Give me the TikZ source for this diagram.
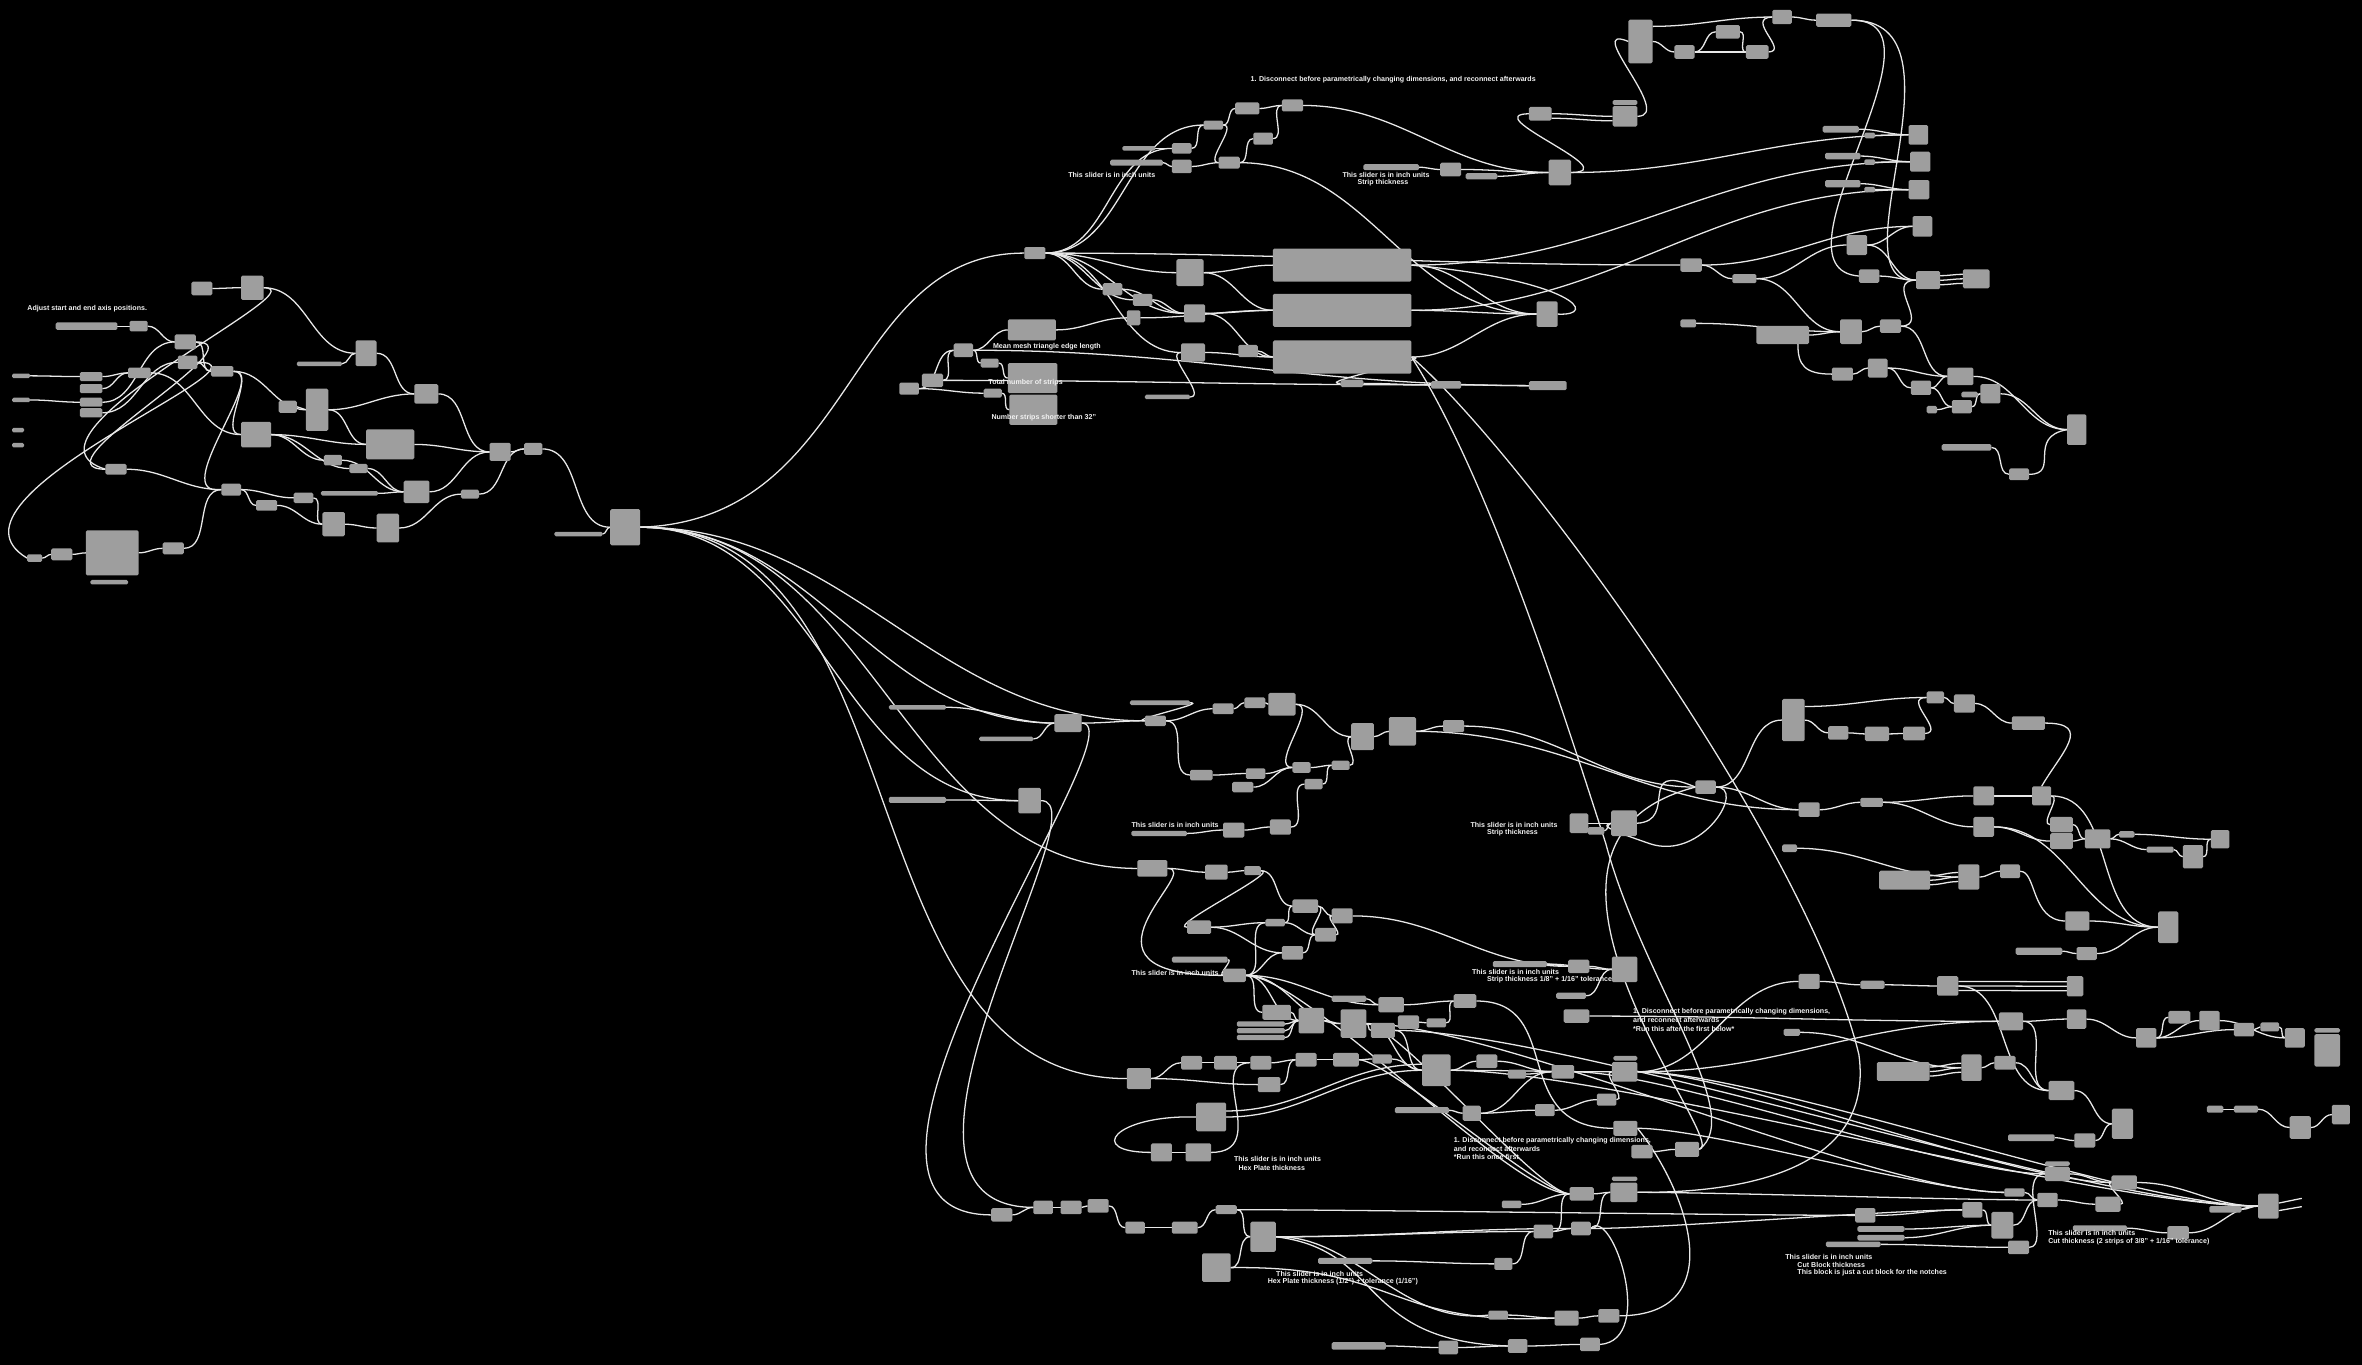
\documentclass[tikz,border=0pt]{standalone}
\usepackage{fontspec}
\setmainfont{Liberation Sans}
\definecolor{boxg}{HTML}{9E9E9E}
\definecolor{wirec}{HTML}{E8E8E8}
\definecolor{txtc}{HTML}{F2F2F2}
\pgfdeclarelayer{back}
\pgfdeclarelayer{wires}
\pgfsetlayers{back,wires,main}
\tikzset{
 gbox/.style={fill=boxg,draw=none,rounded corners=1pt,inner sep=0pt,outer sep=0pt},
 wire/.style={draw=wirec,line width=0.85pt},
 lbl/.style={text=txtc,font=\bfseries\fontsize{4.7}{5.6}\selectfont,inner sep=0pt,anchor=west},
}
\makeatletter
\newcommand\wirelist{}
\newcommand\bx[5]{\node[gbox,minimum width=#4pt,minimum height=#5pt] (#1) at ({#2+#4/2},{#3+#5/2}) {};}
\newcommand\W[3][]{\g@addto@macro\wirelist{\draw[wire,#1] (#2.east) to[out=0,in=180] (#3.west);}}
\newcommand\CW[1]{\g@addto@macro\wirelist{\draw[wire] #1;}}
\makeatother
\begin{document}
\begin{tikzpicture}[x=1pt,y=-1pt]
\begin{pgfonlayer}{back}
\fill[black] (0,0) rectangle (1568,906);
\end{pgfonlayer}
\useasboundingbox (0,0) rectangle (1568,906);
% ---------------- LEFT CLUSTER
\bx{l1}{127}{187}{14}{9}
\bx{l2}{160}{183}{15}{16}
\bx{l3}{37}{214}{41}{5}
\bx{l4}{86}{213}{12}{7}
\bx{l5}{116}{222}{14}{10}
\bx{l6}{118}{236}{13}{9}
\bx{l7}{8}{248}{12}{3}
\bx{l8}{8}{264}{12}{3}
\bx{l9}{8}{284}{8}{3}
\bx{l10}{8}{294}{8}{3}
\bx{l11}{53}{247}{15}{6}
\bx{l12}{53}{255}{15}{6}
\bx{l13}{53}{264}{15}{6}
\bx{l14}{53}{271}{15}{6}
\bx{l15}{85}{244}{15}{7}
\bx{l16}{140}{243}{15}{7}
\bx{l17}{185}{266}{12}{8}
\bx{l18}{203}{258}{15}{28}
\bx{l19}{236}{226}{14}{17}
\bx{l20}{197}{240}{30}{3}
\bx{l21}{275}{255}{16}{13}
\bx{l22}{160}{280}{20}{17}
\bx{l23}{243}{285}{32}{20}
\bx{l24}{70}{308}{14}{7}
\bx{l25}{147}{321}{13}{8}
\bx{l26}{215}{302}{12}{7}
\bx{l27}{232}{308}{12}{6}
\bx{l28}{195}{327}{13}{7}
\bx{l29}{170}{332}{14}{7}
\bx{l30}{213}{326}{38}{3}
\bx{l31}{268}{319}{17}{15}
\bx{l32}{306}{325}{12}{6}
\bx{l33}{325}{294}{14}{12}
\bx{l34}{348}{294}{12}{8}
\bx{l35}{214}{340}{15}{16}
\bx{l36}{250}{341}{15}{19}
\bx{l37}{57}{352}{35}{30}
\bx{l38}{60}{385}{25}{3}
\bx{l39}{34}{364}{14}{8}
\bx{l40}{18}{368}{10}{5}
\bx{l41}{108}{360}{14}{8}
\bx{l42}{368}{353}{32}{3}
\bx{C}{405}{338}{20}{24}
\node[lbl] (tx1) at (18,205) {Adjust start and end axis positions.};
\W{l7}{l11}\W{l8}{l13}\W{l11}{l15}\W{l12}{l15}\W{l13}{l5}\W{l14}{l6}
\W{l3}{l4}\W{l4}{l5}\W{l1}{l2}\W{l5}{l16}\W{l6}{l16}\W{l15}{l22}
\W{l16}{l18}\W{l16}{l22}\W{l20}{l19}\W{l19}{l21}\W{l18}{l21}\W{l18}{l23}
\W{l22}{l23}\W{l17}{l18}\W{l22}{l26}\W{l23}{l33}\W{l21}{l33}\W{l26}{l31}
\W{l27}{l31}\W{l31}{l33}\W{l33}{l34}\W{l34}{C}\W{l30}{l31}\W{l29}{l35}
\W{l28}{l35}\W{l35}{l36}\W{l36}{l32}\W{l32}{l34}\W{l24}{l25}\W{l25}{l29}
\W{l39}{l37}\W{l40}{l39}\W{l37}{l41}\W{l41}{l25}\W{l42}{C}\W{l25}{l28}\W{l22}{l27}
\W{l2}{l19}
\CW{(l5.east) .. controls (175,227) and (20,311) .. (l24.west)}
\CW{(l6.east) .. controls (190,240) and (-50,330) .. (l40.west)}
\CW{(l2.east) .. controls (215,191) and (0,290) .. (l24.west)}
\CW{(l16.east) .. controls (180,246) and (110,330) .. (l25.west)}
% ---------------- TOP RIGHT
\bx{t1}{680}{164}{14}{8}
\bx{t2}{820}{68}{16}{8}
\bx{t3}{851}{66}{14}{8}
\bx{t4}{799}{80}{13}{6}
\bx{t5}{832}{88}{13}{8}
\bx{t6}{809}{104}{14}{8}
\bx{t7}{905}{109}{37}{4}
\bx{t8}{956}{108}{14}{9}
\bx{t9}{973}{115}{21}{4}
\bx{t10}{1028}{106}{15}{17}
\bx{t11}{1015}{71}{15}{9}
\bx{t12}{737}{106}{35}{4}
\bx{t13}{778}{106}{13}{9}
\bx{t14}{778}{95}{13}{7}
\bx{t15}{745}{97}{22}{3}
\bx{t16l}{1070.5}{66.4}{16.5}{3.3}
\bx{t16}{1070.5}{70.4}{16.5}{13.6}
\bx{t17}{1081}{13}{16}{29}
\bx{t18}{1111.5}{30}{13.5}{9}
\bx{t19}{1139}{16.6}{16}{9}
\bx{t20}{1159}{30}{15}{9}
\bx{t21}{1176.5}{6.6}{13}{9.4}
\bx{t22}{1205.6}{9}{23.4}{8.8}
\bx{sa1}{1210}{83.6}{24}{4.4}
\bx{sb1}{1237.6}{88}{7.2}{3.8}
\bx{t23}{1267}{83}{13}{13}
\bx{sa2}{1211.6}{101.4}{23.4}{4.4}
\bx{sb2}{1237.6}{105.8}{7.2}{3.7}
\bx{t24}{1268}{100.7}{13.5}{13.3}
\bx{sa3}{1211.6}{119.5}{23.4}{4.9}
\bx{sb3}{1237.6}{124}{7.2}{3.7}
\bx{t25}{1267}{119.5}{13.8}{12.8}
\bx{t26}{1269.7}{143.4}{13}{13.7}
\bx{tE}{1225.8}{156}{13.7}{13.3}
\bx{t27}{1115.5}{171.5}{14.3}{8.9}
\bx{t28}{1150}{182}{16}{6}
\bx{t29}{1234}{178.8}{13.6}{8.9}
\bx{t30}{1272}{180}{16}{12}
\bx{t31}{1303}{178.8}{17.7}{12.6}
\bx{t32}{1115.5}{212}{10.5}{5.3}
\bx{t33}{1166}{216.4}{35}{12}
\bx{t34}{1221.5}{212}{14.5}{16.4}
\bx{t35}{1248}{212}{14}{9}
\bx{tF}{1216}{244}{14}{8.7}
\bx{tG}{1240}{238}{13}{12.6}
\bx{t36}{1292.7}{244}{17.3}{11.7}
\bx{t37}{1268.5}{252.7}{13.5}{9.5}
\bx{tS}{1302}{260}{11}{3.8}
\bx{t38}{1314.7}{255}{13.3}{12.8}
\bx{t39}{1279}{269.5}{7}{4.9}
\bx{tH}{1295.7}{265.6}{13.3}{8.8}
\bx{t40}{1372.3}{275}{12.7}{20.4}
\bx{t41}{1289}{294.8}{33}{4.4}
\bx{t42}{1333.7}{311}{13.3}{7.7}
\bx{t43}{1020}{200}{14}{17}
\bx{B1}{845}{165}{92}{22}
\bx{B2}{845}{195}{92}{22}
\bx{B3}{845}{226}{92}{22}
\bx{t44}{781}{172}{18}{18}
\bx{t45}{732}{188}{13}{8}
\bx{t46}{752}{195}{13}{8}
\bx{t47}{786}{202}{14}{12}
\bx{t48}{784}{228}{16}{12}
\bx{t49}{760}{262}{30}{3}
\bx{t50}{822}{229}{13}{8}
\bx{t51}{890}{252}{15}{5}
\bx{t52}{950}{253}{20}{5}
\bx{t53}{1015}{253}{25}{6}
\bx{M1}{669}{212}{32}{14}
\bx{M2}{669}{241}{33}{20}
\bx{M3}{670}{262}{32}{20}
\bx{m1}{633}{228}{13}{9}
\bx{m2}{651}{238}{12}{6}
\bx{m3}{612}{248}{14}{9}
\bx{m4}{597}{254}{13}{8}
\bx{m5}{653}{258}{12}{6}
\bx{m6}{748}{206}{9}{10}
\node[lbl] (tx2) at (830,53) {1. Disconnect before parametrically changing dimensions, and reconnect afterwards};
\node[lbl] (tx3) at (709,116) {This slider is in inch units};
\node[lbl] (tx4) at (891,116) {This slider is in inch units};
\node[lbl] (tx4b) at (901,121.5) {Strip thickness};
\node[lbl] (tx5) at (659,230) {Mean mesh triangle edge length};
\node[lbl] (tx6) at (656,254) {Total number of strips};
\node[lbl] (tx7) at (658,277) {Number strips shorter than 32"};
\CW{(C.east) .. controls (570,345) and (560,168) .. (t1.west)}
\W{t1}{t44}\W{t1}{t45}\W{t1}{t46}\W{t1}{t47}\W{t1}{t48}\W{t1}{t27}
\W{t1}{t4}\W{t1}{t14}\W{t15}{t14}\W{t12}{t13}\W{t13}{t6}\W{t14}{t4}
\W{t4}{t2}\W{t4}{t6}\W{t6}{t5}\W{t5}{t3}\W{t2}{t3}\W{t3}{t10}\W{t6}{t43}
\W{t7}{t8}\W{t8}{t10}\W{t9}{t10}\W{t10}{t23}
\CW{(t10.east) .. controls (1080,114) and (980,76) .. (t11.west)}
\W{t11}{t16}
\CW{([yshift=-3pt]t11.east) to[out=0,in=180] ([yshift=-3pt]t16.west)}
\CW{(t16.east) .. controls (1112,77) and (1050,15) .. (t17.west)}
\CW{([yshift=10pt]t17.east) to[out=0,in=180] (t21.west)}
\W{t17}{t18}\W{t18}{t19}\W{t18}{t20}\W{t19}{t20}
\CW{(t20.east) .. controls (1188,34) and (1158,12) .. (t21.west)}
\W{t21}{t22}
\CW{(t22.east) .. controls (1300,13) and (1170,178) .. (t29.west)}
\CW{(t22.east) .. controls (1312,13) and (1215,190) .. (t30.west)}
\W{sa1}{t23}\W{sb1}{t23}\W{sa2}{t24}\W{sb2}{t24}\W{sa3}{t25}\W{sb3}{t25}
\W{B1}{t24}\W{B2}{t25}\W{B1}{t43}\W{B2}{t43}\W{B3}{t43}
\W{t27}{t26}\W{t27}{t28}\W{t28}{tE}\W{t28}{t34}\W{tE}{t26}\W{tE}{t30}\W{t29}{t30}
\W{t30}{t31}
\CW{([yshift=3pt]t30.east) to[out=0,in=180] ([yshift=3pt]t31.west)}
\CW{([yshift=-3pt]t30.east) to[out=0,in=180] ([yshift=-3pt]t31.west)}
\W{t32}{t34}\W{t33}{t34}\W{t34}{t35}
\CW{(t35.east) .. controls (1282,216) and (1250,186) .. (t30.west)}
\W{t35}{t36}
\CW{([xshift=10pt]t33.south) .. controls +(0,14) and +(-18,0) .. (tF.west)}
\W{tF}{tG}\W{tG}{t37}\W{tG}{t36}\W{t37}{t36}\W{t37}{tH}\W{tS}{t38}\W{t39}{tH}
\W{tH}{t38}\W{t36}{t40}\W{t38}{t40}\W{t41}{t42}
\CW{(t42.east) .. controls (1368,315) and (1345,290) .. (t40.west)}
\CW{(t43.east) .. controls (1062,210) and (1045,186) .. (B1.east)}
\W{t44}{B1}\W{t45}{t47}\W{t46}{t47}\W{t47}{B2}\W{t48}{B3}\W{t50}{B3}\W{t49}{t48}
\W{m6}{B2}\W{t44}{B2}\W{t47}{B3}
\W{m4}{m1}\W{m3}{m1}\W{m1}{m2}\W{m2}{M2}\W{m4}{m5}\W{m5}{M3}\W{m1}{M1}
\W{M1}{m6}\W{m1}{t53}\W{m3}{t52}\W{B3}{t51}\W{t51}{t52}\W{t52}{t53}
% ---------------- LOWER CLUSTER
\bx{u1}{590}{468}{38}{3}
\bx{u2}{650}{489}{36}{3}
\bx{u3}{700}{474}{18}{12}
\bx{u4}{590}{529}{38}{4}
\bx{u5}{676}{523}{15}{17}
\bx{u6}{750}{465}{40}{3}
\bx{u7}{760}{475}{14}{7}
\bx{u8}{805}{467}{14}{7}
\bx{u9}{826}{463}{14}{7}
\bx{u10}{842}{460}{18}{15}
\bx{u11}{897}{480}{15}{18}
\bx{u12}{922}{476}{18}{19}
\bx{u13}{958}{478}{14}{8}
\bx{u14}{884}{505}{12}{6}
\bx{u15}{790}{511}{15}{7}
\bx{u16}{827}{510}{13}{7}
\bx{u17}{818}{519}{14}{7}
\bx{u18}{858}{506}{12}{7}
\bx{u19}{866}{517}{12}{7}
\bx{u20}{843}{544}{14}{10}
\bx{u21}{812}{546}{14}{10}
\bx{u22}{751}{551.5}{37}{3.5}
\node[lbl] (tx8) at (751,547.7) {This slider is in inch units};
\bx{z0}{658}{802}{14}{9}
\bx{y1}{686}{797}{13}{9}
\bx{y2}{704}{797}{14}{9}
\bx{z1}{755}{571}{20}{11}
\bx{z2}{800}{574}{15}{10}
\bx{z3}{826}{575}{11}{6}
\bx{z4}{858}{597}{17}{9}
\bx{z5}{884}{603}{14}{10}
\bx{z6}{788}{611}{16}{9}
\bx{z7}{840}{610}{13}{5}
\bx{z8}{873}{616}{14}{9}
\bx{z9}{851}{628}{14}{9}
\bx{z10}{778}{635}{37}{4}
\bx{z11}{812}{643}{15}{9}
\bx{z12}{884}{661}{23}{4}
\bx{z13}{915}{662}{17}{10}
\bx{z14}{965}{660}{15}{9}
\bx{z15}{838}{667}{19}{10}
\bx{z16}{862}{669}{17}{17}
\bx{z17a}{821}{678}{32}{3.5}
\bx{z17b}{821}{682.5}{32}{3.5}
\bx{z17c}{821}{687}{32}{3.5}
\bx{z18}{890}{670}{17}{19}
\bx{z19}{910}{679}{16}{10}
\bx{z20}{928}{674}{14}{9}
\bx{z21}{947}{676}{13}{6}
\bx{z22}{1041}{637}{14}{9}
\bx{z23}{991}{638}{36}{4}
\bx{z24}{1070}{635}{17}{17}
\bx{z25}{1033}{659}{20}{4}
\bx{z26}{1038}{670}{17}{9}
\bx{z27}{748}{709}{16}{14}
\bx{z28}{784}{701}{14}{9}
\bx{z29}{806}{701}{15}{9}
\bx{z30}{830}{701}{14}{9}
\bx{z31}{835}{715}{15}{10}
\bx{z32}{860}{699}{14}{9}
\bx{z33}{885}{699}{17}{9}
\bx{z34}{911}{700}{13}{6}
\bx{z35}{944}{700}{19}{21}
\bx{z36}{980}{700}{14}{9}
\bx{z37}{1001}{710}{12}{6}
\bx{z38}{1030}{707}{15}{9}
\bx{z39}{1070}{705}{17}{13}
\bx{z39l}{1071}{701}{16}{3}
\bx{z40}{1060}{726}{13}{8}
\bx{z41}{926}{735}{36}{4}
\bx{z42}{971}{734}{12}{10}
\bx{z43}{1019}{733}{13}{8}
\bx{z44}{1071}{744}{16}{10}
\bx{z45}{794}{732}{20}{19}
\bx{z46}{764}{759}{14}{12}
\bx{z47}{787}{759}{17}{12}
\bx{z48}{1083}{760}{14}{9}
\bx{z49}{1112}{758}{16}{10}
\bx{z50}{1042}{788}{16}{9}
\bx{z51}{1069}{785}{18}{13}
\bx{z51l}{1070}{781}{17}{3}
\bx{z52}{997}{797}{13}{5}
\bx{z53}{722}{796}{14}{9}
\bx{z54}{747}{811}{13}{8}
\bx{z55}{778}{811}{17}{8}
\bx{z56}{807}{800}{14}{6}
\bx{z57}{830}{811}{17}{20}
\bx{z58}{798}{832}{19}{19}
\bx{z59}{875}{835}{36}{4}
\bx{z60}{1018}{813}{13}{9}
\bx{z61}{1043}{811}{13}{9}
\bx{z62}{992}{835}{12}{8}
\bx{z63}{988}{870}{13}{6}
\bx{z64}{1032}{870}{16}{10}
\bx{z65}{1061}{869}{14}{9}
\bx{z66}{884}{891}{36}{5}
\bx{z67}{955}{890}{13}{9}
\bx{z68}{1001}{889}{13}{9}
\bx{z69}{1049}{888}{13}{9}
\node[lbl] (tx9) at (751,645.7) {This slider is in inch units};
\node[lbl] (tx10) at (977,645.3) {This slider is in inch units};
\node[lbl] (tx10b) at (987,650.3) {Strip thickness 1/8" + 1/16" tolerance};
\node[lbl] (tx11) at (976,547.7) {This slider is in inch units};
\node[lbl] (tx11b) at (987,553) {Strip thickness};
\node[lbl] (tx12) at (1084,671.8) {1. Disconnect before parametrically changing dimensions,};
\node[lbl] (tx12b) at (1084,677.3) {and reconnect afterwards};
\node[lbl] (tx12c) at (1084,682.8) {*Run this after the first below*};
\node[lbl] (tx13) at (965,757) {1. Disconnect before parametrically changing dimensions,};
\node[lbl] (tx13b) at (965,762.5) {and reconnect afterwards};
\node[lbl] (tx13c) at (965,768) {*Run this once first};
\node[lbl] (tx14) at (819,769.6) {This slider is in inch units};
\node[lbl] (tx14b) at (822,775.4) {Hex Plate thickness};
\node[lbl] (tx15) at (847,845.8) {This slider is in inch units};
\node[lbl] (tx15b) at (841.4,851) {Hex Plate thickness (1/2") + tolerance (1/16")};
\W{C}{u3}\W{C}{u5}\W{C}{z1}\W{C}{u7}\W{C}{z27}
\W{u1}{u3}\W{u2}{u3}\W{u4}{u5}\W{u3}{u7}\W{u6}{u7}\W{u7}{u8}\W{u8}{u9}
\W{u9}{u10}\W{u10}{u11}\W{u11}{u12}\W{u12}{u13}\W{u15}{u16}\W{u17}{u18}
\W{u16}{u18}\W{u18}{u14}\W{u19}{u14}\W{u14}{u11}\W{u20}{u19}\W{u21}{u20}\W{u22}{u21}
\W{u7}{u15}\W{u10}{u18}
\CW{(u3.east) .. controls (760,480) and (520,806) .. (z0.west)}
\CW{(u5.east) .. controls (735,531) and (560,801) .. (y1.west)}
\W{z0}{y1}\W{y1}{y2}\W{y2}{z53}
\W{z1}{z2}\W{z2}{z3}\W{z3}{z4}\W{z6}{z7}\W{z6}{z9}\W{z7}{z4}\W{z7}{z8}
\W{z4}{z5}\W{z4}{z8}\W{z8}{z5}\W{z9}{z8}\W{z11}{z9}\W{z11}{z7}\W{z10}{z11}
\CW{(z3.east) .. controls +(14,0) and +(-14,0) .. (z6.west)}
\CW{(z1.east) .. controls (800,576.5) and (700,647.5) .. (z11.west)}
\W{z5}{z22}\W{z23}{z22}\W{z22}{z24}\W{z23}{z24}\W{z25}{z24}
\W{z11}{z15}\W{z11}{z16}\W{z11}{z18}\W{z11}{z13}
\W{z12}{z13}\W{z13}{z14}\W{z20}{z21}\W{z21}{z14}\W{z18}{z19}\W{z16}{z18}
\W{z15}{z16}\W{z17a}{z16}\W{z17b}{z16}\W{z17c}{z16}\W{z19}{z35}\W{z18}{z35}
\CW{(z14.east) .. controls (1040,664.5) and (1000,749) .. (z44.west)}
\W{z27}{z28}\W{z28}{z29}\W{z29}{z30}\W{z30}{z32}\W{z32}{z33}\W{z33}{z34}
\W{z34}{z35}\W{z27}{z31}\W{z31}{z32}\W{z35}{z36}\W{z35}{z39}\W{z36}{z38}
\W{z37}{z38}\W{z38}{z39}\W{z41}{z42}\W{z42}{z43}\W{z43}{z40}\W{z40}{z39}\W{z42}{z38}
\W{z45}{z35}
\CW{([yshift=4pt]z45.east) to[out=0,in=180] ([yshift=4pt]z35.west)}
\CW{(z45.west) .. controls (740,740) and (720,765) .. (z46.west)}
\W{z46}{z47}
\CW{(z47.east) .. controls +(40,0) and +(-30,0) .. (z30.west)}
\W[looseness=0.3]{z33}{z50}\W[looseness=0.3]{z18}{z50}
\W{z48}{z49}\W{z50}{z51}\W{z52}{z50}
\W{z53}{z54}\W{z54}{z55}\W{z55}{z56}\W{z56}{z57}\W{z58}{z57}\W{z57}{z60}
\W{z57}{z61}\W{z62}{z60}\W{z60}{z61}\W{z61}{z51}\W{z60}{z50}\W{z59}{z62}
\W{z63}{z64}\W{z64}{z65}\W{z66}{z67}\W{z67}{z68}\W{z68}{z69}
\CW{(z57.east) .. controls (900,820) and (930,880) .. (z63.west)}
\CW{(z57.east) .. controls (920,830) and (900,890) .. (z68.west)}
\CW{(z58.east) .. controls (930,840) and (920,880) .. (z64.west)}
\CW{(z65.east) .. controls (1150,873) and (1120,790) .. (z44.east)}
\CW{(z69.east) .. controls (1100,890) and (1070,800) .. (z61.east)}
\W[looseness=0.4]{z11}{z50}
% long diagonals from the top
\CW{(B3.east) .. controls (1010,300) and (1200,560) .. (1234,700) .. controls (1245,780) and (1150,792) .. (z51.east)}
\CW{(B3.east) .. controls (990,320) and (1040,480) .. (1066,560) .. controls (1090,650) and (1160,740) .. (z49.east)}
% ---------------- RIGHT MIDDLE
\bx{r1}{1183}{464}{15}{28}
\bx{r2}{1213.6}{482}{13.4}{9}
\bx{r3}{1238}{482.4}{16}{9.6}
\bx{r4}{1263.4}{482.4}{14.6}{9}
\bx{r5}{1279}{459}{11.5}{8}
\bx{r6}{1297}{461}{14}{12}
\bx{r6b}{1335.5}{475.5}{22}{9}
\bx{r7}{1069.6}{538}{17}{17}
\bx{r8}{1042}{540}{12.4}{13}
\bx{r8b}{1054}{549}{11}{5}
\bx{r9}{1125.5}{518}{13.5}{9}
\bx{r10}{1194}{532.7}{14}{9.6}
\bx{r11}{1235}{529.6}{15}{6}
\bx{r12}{1310}{522}{13.7}{12.7}
\bx{r13}{1349}{522}{12.6}{12.7}
\bx{r14}{1310}{542.3}{13.7}{13.2}
\bx{r15a}{1361}{542.3}{15}{10.3}
\bx{r15b}{1361}{553}{15}{10.7}
\bx{r16}{1384}{550.5}{17}{12.7}
\bx{r17}{1406.7}{551.7}{10.3}{4.3}
\bx{r18}{1467.6}{551}{12.4}{12.2}
\bx{r19}{1425}{562}{18}{4}
\bx{r19b}{1449}{561}{13.5}{15.4}
\bx{r20}{1247.5}{578}{33.8}{12.6}
\bx{r21}{1300}{573.8}{14}{16.8}
\bx{r22}{1327.7}{573.8}{13.3}{9.2}
\bx{r23}{1371}{605}{16}{12.8}
\bx{r24}{1432.7}{605}{13.3}{21}
\bx{r25}{1338}{629}{31}{4.8}
\bx{r26}{1378.5}{628.7}{13.5}{8.6}
\bx{r27}{1183}{560.6}{10}{5}
\W{u13}{r9}\W{u12}{r10}
\W{r9}{r1}
\CW{([yshift=9pt]r1.east) to[out=0,in=180] (r5.west)}
\W{r1}{r2}\W{r2}{r3}\W{r3}{r4}
\CW{(r4.east) .. controls (1292,486) and (1262,463) .. (r5.west)}
\W{r5}{r6}\W{r6}{r6b}
\CW{(r6b.east) .. controls (1390,480) and (1368,500) .. (r13.north)}
\W{r9}{r10}\W{r10}{r11}\W{r11}{r12}\W{r12}{r13}\W{r11}{r14}\W{r14}{r15b}\W{r13}{r15a}
\W{r15a}{r16}\W{r15b}{r16}\W{r16}{r17}\W{r17}{r18}\W{r16}{r19}\W{r19}{r19b}\W{r19b}{r18}
\W{r27}{r21}\W{r20}{r21}
\CW{([yshift=3pt]r20.east) to[out=0,in=180] ([yshift=3pt]r21.west)}
\CW{([yshift=-3pt]r20.east) to[out=0,in=180] ([yshift=-3pt]r21.west)}
\W{r21}{r22}
\CW{(r22.east) .. controls (1352,578) and (1348,611) .. (r23.west)}
\W{r23}{r24}\W{r25}{r26}\W{r26}{r24}\W{r14}{r24}\W{r13}{r24}
\W{r8}{r7}\W{r8b}{r7}
\CW{(r7.east) .. controls (1115,545) and (1085,505) .. (r9.west)}
\CW{(r9.east) .. controls (1160,522) and (1130,572) .. (1095,560) .. controls (1075,553) and (1060,548) .. (r7.west)}
\CW{(z49.east) .. controls (1150,760) and (980,560) .. (r9.west)}
% ---------------- LOWER RIGHT
\bx{q1a}{1194}{646.5}{14}{10}
\bx{q1b}{1235}{651}{16}{5.5}
\bx{q1}{1286}{648}{14}{13}
\bx{q1c}{1372}{648}{11}{13.4}
\bx{q2}{1184}{683}{11}{4.6}
\bx{q3}{1327}{672}{16}{12}
\bx{q4}{1372}{670}{13}{13}
\bx{q5}{1418}{682.5}{13.5}{13}
\bx{q6}{1439.5}{671}{14.5}{8.5}
\bx{q7}{1460}{671}{13.4}{13}
\bx{q8}{1483}{679}{13.4}{9}
\bx{q8b}{1500.5}{678.7}{12.5}{6}
\bx{q9}{1516.7}{682.5}{13.3}{13}
\bx{q10l}{1536.4}{682.5}{17}{3}
\bx{q10}{1536.4}{686.5}{17}{21.5}
\bx{q11}{1246}{705}{35}{12.6}
\bx{q12}{1302}{700}{13.4}{17.6}
\bx{q13}{1324}{701}{14}{9}
\bx{q14}{1360}{717.6}{17}{12.7}
\bx{q15}{1402}{736}{14}{20}
\bx{q16}{1333}{753}{31}{4.5}
\bx{q17}{1377}{752.4}{14}{9.4}
\bx{q18}{1465}{734}{11}{4.6}
\bx{q18b}{1483}{734}{16}{4.6}
\bx{q18c}{1520}{741}{14}{15}
\bx{q18d}{1548}{733.4}{12}{13}
\bx{q20l}{1357.5}{771}{16.5}{3}
\bx{q20}{1357.5}{774.5}{16.5}{9.5}
\bx{q21}{1401.6}{780.3}{17}{9.4}
\bx{q22}{1330.5}{788.8}{13.5}{5.5}
\bx{q23}{1352.5}{791.8}{13.5}{9.6}
\bx{q24}{1391}{794.3}{16.7}{10.2}
\bx{q25}{1302.7}{798}{13.3}{10.3}
\bx{q26}{1322}{804.5}{14.5}{17.7}
\bx{q27}{1231.5}{802}{13.5}{9.6}
\bx{q28}{1233}{814}{31.4}{3.7}
\bx{q29}{1233}{819.7}{31.4}{3.8}
\bx{q30}{1212}{824.3}{36.5}{3.5}
\bx{q31}{1333}{823.5}{14}{9}
\bx{q32}{1376}{813.4}{36}{3.8}
\bx{q33}{1438.8}{814}{14.2}{8.8}
\bx{q34}{1466.6}{800.7}{21.4}{4.3}
\bx{q19}{1499}{792.3}{13.7}{16.7}
\node[lbl] (tx16) at (1185,834.5) {This slider is in inch units};
\node[lbl] (tx16b) at (1193,839.8) {Cut Block thickness};
\node[lbl] (tx16c) at (1193,845.1) {This block is just a cut block for the notches};
\node[lbl] (tx17) at (1359.5,818.5) {This slider is in inch units};
\node[lbl] (tx17b) at (1359.5,824) {Cut thickness (2 strips of 3/8" + 1/16" tolerance)};
\W{z39}{q1a}\W{q1a}{q1b}\W{q1b}{q1}\W{q1}{q1c}
\CW{([yshift=3pt]q1.east) to[out=0,in=180] ([yshift=3pt]q1c.west)}
\CW{([yshift=-3pt]q1.east) to[out=0,in=180] ([yshift=-3pt]q1c.west)}
\W{z26}{q3}\W{q3}{q4}\W{z39}{q3}
\W{q4}{q5}\W{q5}{q6}\W{q5}{q7}\W{q5}{q8}\W{q8}{q8b}\W{q8b}{q9}\W{q7}{q9}
\W{q2}{q12}\W{q11}{q12}
\CW{([yshift=3pt]q11.east) to[out=0,in=180] ([yshift=3pt]q12.west)}
\CW{([yshift=-3pt]q11.east) to[out=0,in=180] ([yshift=-3pt]q12.west)}
\W{q12}{q13}\W{q13}{q14}\W{q14}{q15}\W{q16}{q17}\W{q17}{q15}\W{q1}{q14}\W{q3}{q14}
\W{q18}{q18b}\W{q18b}{q18c}\W{q18c}{q18d}
\W[looseness=0.4]{z56}{q27}\W{q27}{q25}\W{q28}{q26}\W{q29}{q26}\W{q30}{q31}\W{q25}{q26}
\W{q26}{q23}\W{q22}{q23}\W{q23}{q24}\W{q24}{q21}\W{q20}{q21}\W{q21}{q19}\W{q34}{q19}
\W{q32}{q33}\W{q33}{q19}
\CW{(q31.east) .. controls (1362,828) and (1338,779) .. (q20.west)}
\W[looseness=0.5]{z39}{q19}\W[looseness=0.5]{z35}{q19}\W[looseness=0.5]{z38}{q20}
\W[looseness=0.5]{z39}{q21}\W[looseness=0.5]{z19}{q19}\W[looseness=0.5]{z18}{q22}
\W[looseness=0.5]{z44}{q22}\W[looseness=0.5]{z51}{q23}\W[looseness=0.5]{z61}{q25}
\coordinate (qout1) at (1528,795.5);
\coordinate (qout2) at (1528,801);
\CW{([yshift=2pt]q19.east) -- (qout1)}
\CW{([yshift=-3pt]q19.east) -- (qout2)}
\begin{pgfonlayer}{wires}
\wirelist
\end{pgfonlayer}
\end{tikzpicture}
\end{document}
